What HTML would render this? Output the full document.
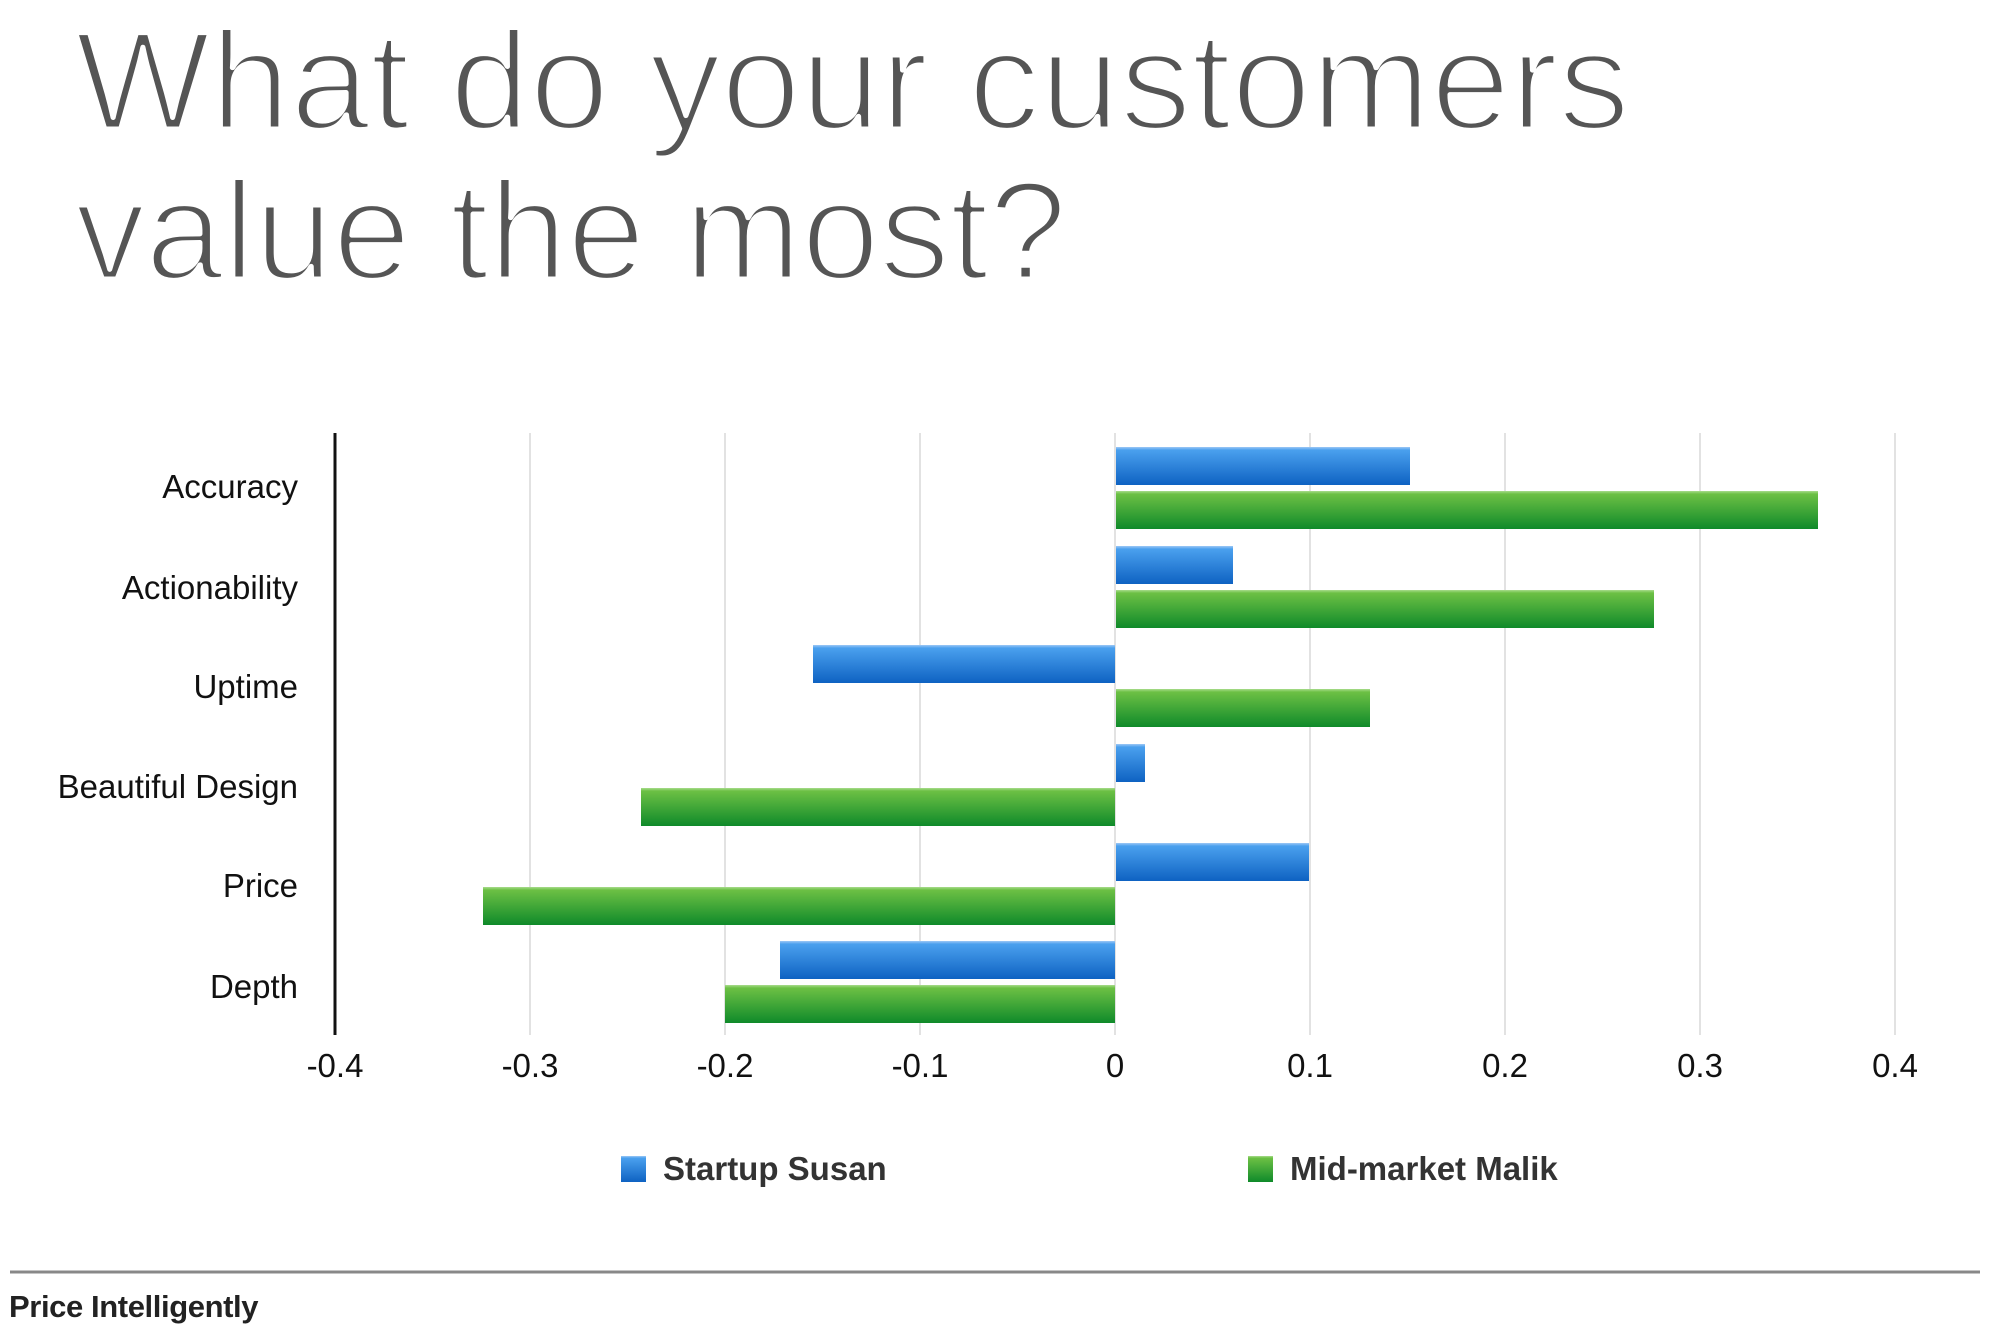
<!DOCTYPE html>
<html><head><meta charset="utf-8"><style>
html,body{margin:0;padding:0;background:#fff;}
svg{display:block;}
</style></head><body>
<svg width="2000" height="1331" viewBox="0 0 2000 1331" xmlns="http://www.w3.org/2000/svg" font-family="'Liberation Sans', sans-serif">
<defs>
<linearGradient id="b" x1="0" y1="0" x2="0" y2="1">
<stop offset="0" stop-color="#9cc8f5"/><stop offset="0.08" stop-color="#4aa0ee"/><stop offset="1" stop-color="#0e62c2"/></linearGradient>
<linearGradient id="g" x1="0" y1="0" x2="0" y2="1">
<stop offset="0" stop-color="#a8dc8c"/><stop offset="0.08" stop-color="#6cc044"/><stop offset="1" stop-color="#0f8a2a"/></linearGradient>
</defs>
<g fill="#555" stroke="#fff" stroke-width="5" stroke-linejoin="round">
<text x="75" y="129" font-size="140" textLength="1555" lengthAdjust="spacingAndGlyphs">What do your customers</text>
<text x="75" y="279" font-size="140" textLength="992" lengthAdjust="spacingAndGlyphs">value the most?</text>
</g>
<g stroke="#e2e2e2" stroke-width="2">
<line x1="530" y1="433" x2="530" y2="1035"/><line x1="725" y1="433" x2="725" y2="1035"/>
<line x1="920" y1="433" x2="920" y2="1035"/><line x1="1115" y1="433" x2="1115" y2="1035"/>
<line x1="1310" y1="433" x2="1310" y2="1035"/><line x1="1505" y1="433" x2="1505" y2="1035"/>
<line x1="1700" y1="433" x2="1700" y2="1035"/><line x1="1895" y1="433" x2="1895" y2="1035"/>
</g>
<line x1="335" y1="433" x2="335" y2="1035" stroke="#111" stroke-width="3"/>
<rect x="1116" y="447" width="294" height="38" fill="url(#b)"/>
<rect x="1116" y="491" width="702" height="38" fill="url(#g)"/>
<rect x="1116" y="546" width="117" height="38" fill="url(#b)"/>
<rect x="1116" y="590" width="538" height="38" fill="url(#g)"/>
<rect x="813" y="645" width="302" height="38" fill="url(#b)"/>
<rect x="1116" y="689" width="254" height="38" fill="url(#g)"/>
<rect x="1116" y="744" width="29" height="38" fill="url(#b)"/>
<rect x="641" y="788" width="474" height="38" fill="url(#g)"/>
<rect x="1116" y="843" width="193" height="38" fill="url(#b)"/>
<rect x="483" y="887" width="632" height="38" fill="url(#g)"/>
<rect x="780" y="941" width="335" height="38" fill="url(#b)"/>
<rect x="725" y="985" width="390" height="38" fill="url(#g)"/>
<g font-size="33" fill="#111" text-anchor="end">
<text x="298" y="498">Accuracy</text>
<text x="298" y="599">Actionability</text>
<text x="298" y="698">Uptime</text>
<text x="298" y="798">Beautiful Design</text>
<text x="298" y="897">Price</text>
<text x="298" y="998">Depth</text>
</g>
<g font-size="33" fill="#111" text-anchor="middle">
<text x="335" y="1077">-0.4</text><text x="530" y="1077">-0.3</text><text x="725" y="1077">-0.2</text>
<text x="920" y="1077">-0.1</text><text x="1115" y="1077">0</text><text x="1310" y="1077">0.1</text>
<text x="1505" y="1077">0.2</text><text x="1700" y="1077">0.3</text><text x="1895" y="1077">0.4</text>
</g>
<rect x="621" y="1156" width="25" height="26" fill="url(#b)"/>
<text x="663" y="1180" font-size="33" font-weight="bold" fill="#333">Startup Susan</text>
<rect x="1248" y="1156" width="25" height="26" fill="url(#g)"/>
<text x="1290" y="1180" font-size="33" font-weight="bold" fill="#333">Mid-market Malik</text>
<line x1="10" y1="1272" x2="1980" y2="1272" stroke="#888" stroke-width="3"/>
<text x="9" y="1317" font-size="31" font-weight="bold" fill="#222" letter-spacing="-0.4">Price Intelligently</text>
</svg>
</body></html>
